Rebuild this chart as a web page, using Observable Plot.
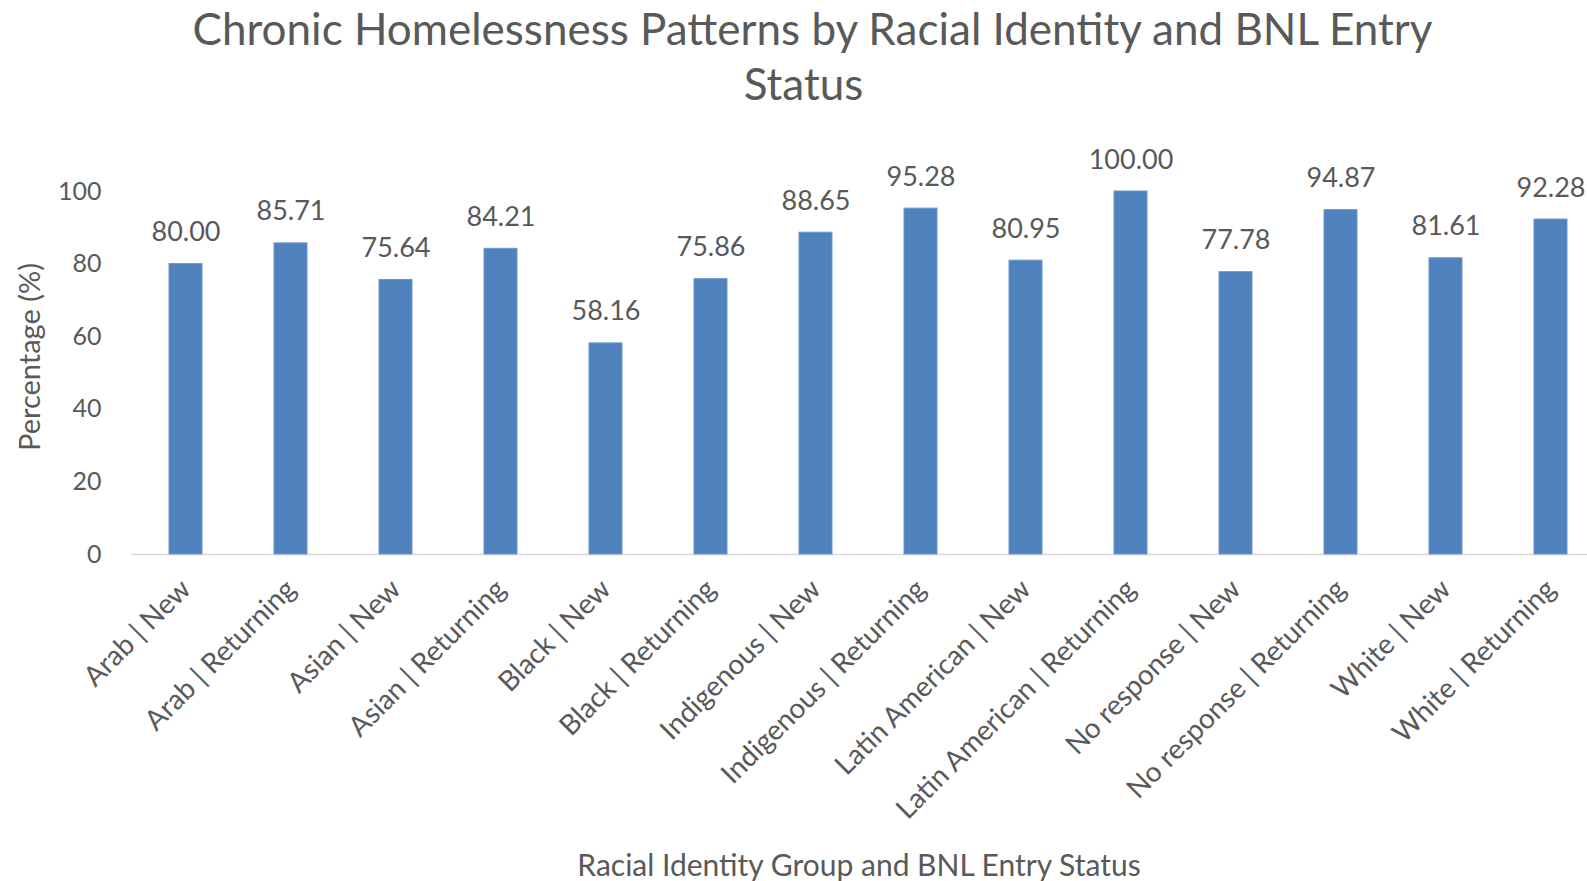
<!DOCTYPE html>
<html>
<head>
<meta charset="utf-8">
<script src="https://cdn.jsdelivr.net/npm/d3@7"></script>
<script src="https://cdn.jsdelivr.net/npm/@observablehq/plot@0.6"></script>
<style>
  html, body { margin: 0; padding: 0; background: #fff; overflow: hidden; width: 1587px; height: 881px; }
  #title { position: relative; width: 1587px; height: 120px; font-family: Lato, "Open Sans", sans-serif; color: #595959; }
  #title div { position: absolute; left: 0; width: 1587px; text-align: center; font-size: 44px; line-height: 44px; white-space: nowrap; box-sizing: border-box; }
  #chart svg { display: block; }
</style>
</head>
<body>
<div id="title">
  <div id="t1" style="top:6px; padding-left:38px;">Chronic Homelessness Patterns by Racial Identity and BNL Entry</div>
  <div id="t2" style="top:61px; padding-left:20px;">Status</div>
</div>
<div id="chart"></div>
<script>
const categories = [
  "Arab | New", "Arab | Returning", "Asian | New", "Asian | Returning",
  "Black | New", "Black | Returning", "Indigenous | New", "Indigenous | Returning",
  "Latin American | New", "Latin American | Returning", "No response | New", "No response | Returning",
  "White | New", "White | Returning"
];
const values = [80.00, 85.71, 75.64, 84.21, 58.16, 75.86, 88.65, 95.28, 80.95, 100.00, 77.78, 94.87, 81.61, 92.28];
const yTicks = [0, 20, 40, 60, 80, 100];
const xTitle = "Racial Identity Group and BNL Entry Status";
const yTitle = "Percentage (%)";

const data = categories.map((c, i) => ({category: c, value: values[i]}));

const chart = Plot.plot({
  width: 1587,
  height: 761,
  marginLeft: 131,
  marginRight: -17,
  marginTop: 71,
  marginBottom: 327,
  style: {fontFamily: "Lato, 'Open Sans', sans-serif", color: "#595959", background: "#fff"},
  x: {type: "band", domain: categories, paddingInner: 0.686, paddingOuter: 0.343, axis: null},
  y: {domain: [0, 100], axis: null},
  marks: [
    Plot.ruleY([0], {stroke: "#d9d9d9", strokeWidth: 1.5}),
    Plot.barY(data, {x: "category", y: "value", fill: "#4f81bd", stroke: "#6d98cc", strokeWidth: 1}),
    Plot.text(data, {x: "category", y: "value", text: d => d.value.toFixed(2), dy: -23, lineAnchor: "bottom", fontSize: 27, fill: "#595959"}),
    Plot.axisX({tickRotate: -45, tickSize: 0, tickPadding: 30, fontSize: 28, label: null}),
    Plot.axisY({ticks: yTicks, tickSize: 0, tickPadding: 30, fontSize: 25, label: null}),
    Plot.text([yTitle], {frameAnchor: "left", rotate: -90, dx: -101, dy: 78, fontSize: 29, fill: "#595959"}),
    Plot.text([xTitle], {frameAnchor: "bottom", dy: 321, dx: -9, fontSize: 30, fill: "#595959"})
  ]
});
document.getElementById("chart").appendChild(chart);
</script>
</body>
</html>
